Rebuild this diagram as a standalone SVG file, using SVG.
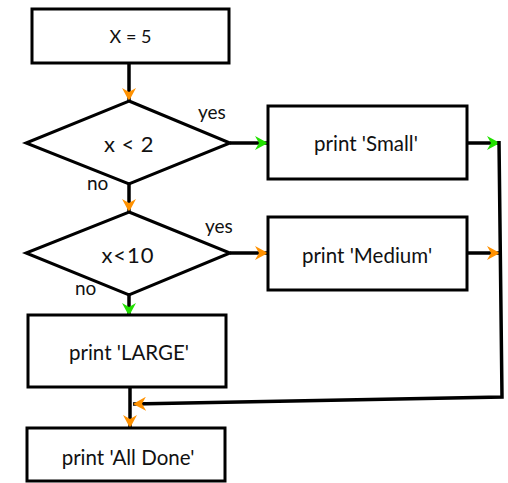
<svg xmlns="http://www.w3.org/2000/svg" width="508" height="483" viewBox="0 0 508 483">
<style>
.box{fill:#fff;stroke:#000;stroke-width:3}
.t{font-family:Lato,"Open Sans","Liberation Sans",sans-serif;fill:#111;text-anchor:middle}
.p{font-size:20.5px}
.lbl{font-family:Lato,"Open Sans","Liberation Sans",sans-serif;fill:#111;font-size:19px}
.c{fill:none;stroke:#000;stroke-width:3.5}
</style>
<defs>
<marker id="ao" markerUnits="userSpaceOnUse" markerWidth="14" markerHeight="14" refX="13" refY="7" orient="auto"><path d="M0,0 L13,7 L0,14 L4,7 z" fill="#FF9100"/></marker>
<marker id="ag" markerUnits="userSpaceOnUse" markerWidth="14" markerHeight="14" refX="13" refY="7" orient="auto"><path d="M0,0 L13,7 L0,14 L4,7 z" fill="#22E000"/></marker>
</defs>
<g id="connectors">
<path class="c" d="M129,63 V101" marker-end="url(#ao)"/>
<path class="c" d="M230,143 H268" marker-end="url(#ag)"/>
<path class="c" d="M467,143 H500" marker-end="url(#ag)"/>
<path class="c" d="M129,184 V212" marker-end="url(#ao)"/>
<path class="c" d="M230,253 H268" marker-end="url(#ao)"/>
<path class="c" d="M467,253 H500" marker-end="url(#ao)"/>
<path class="c" d="M129,295 V316" marker-end="url(#ag)"/>
<path class="c" d="M130,387 V428" marker-end="url(#ao)"/>
<path class="c" d="M499,141 L502,397 L133,404" marker-end="url(#ao)"/>
</g>
<g id="n-x5"><rect class="box" x="32" y="9" width="197" height="54"/><text class="t" x="130.5" y="43" font-size="18">X = 5</text></g>
<g id="n-d1"><polygon class="box" points="129,101 230,143 129,184 26,143"/><text class="t" x="129" y="152" font-size="22" letter-spacing="0.5">x &lt; 2</text></g>
<g id="n-small"><rect class="box" x="268" y="106" width="199" height="73"/><text class="t p" x="366" y="151">print 'Small'</text></g>
<g id="n-d2"><polygon class="box" points="129,212 230,253 129,295 26,253"/><text class="t" x="128" y="263" font-size="22" letter-spacing="1">x&lt;10</text></g>
<g id="n-medium"><rect class="box" x="268" y="217" width="199" height="73"/><text class="t p" x="367" y="263">print 'Medium'</text></g>
<g id="n-large"><rect class="box" x="28" y="315" width="198" height="72"/><text class="t p" x="129" y="360">print 'LARGE'</text></g>
<g id="n-done"><rect class="box" x="27" y="428" width="198" height="53"/><text class="t p" x="128" y="465">print 'All Done'</text></g>
<g id="labels">
<text class="lbl" x="198" y="119">yes</text>
<text class="lbl" x="87" y="190">no</text>
<text class="lbl" x="205" y="233">yes</text>
<text class="lbl" x="75" y="295">no</text>
</g>
</svg>
